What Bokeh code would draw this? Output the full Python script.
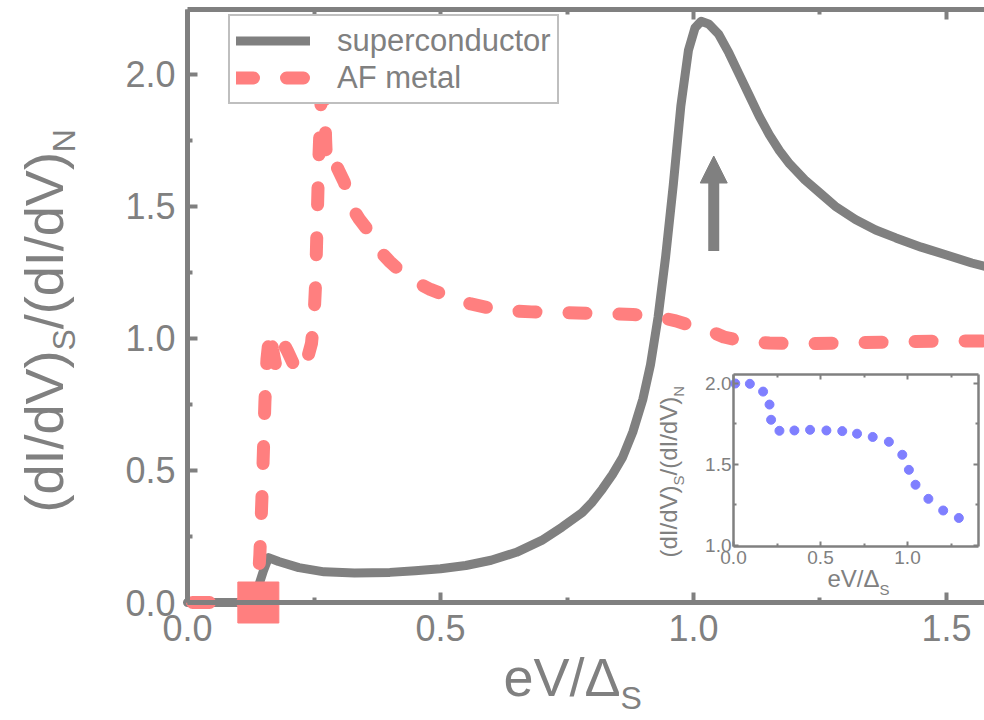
from bokeh.plotting import figure
from bokeh.models import (Range1d, LinearAxis, FixedTicker, PrintfTickFormatter,
                          Legend, LegendItem, Label, Arrow, NormalHead)
from bokeh.layouts import column
from bokeh.embed import file_html
from bokeh.resources import INLINE

# ---------------- data ----------------
sc_x = [0.0, 0.13, 0.14, 0.15, 0.16, 0.18, 0.22, 0.27, 0.33, 0.40, 0.45, 0.50, 0.55,
        0.60, 0.65, 0.70, 0.74, 0.78, 0.80, 0.82, 0.84, 0.86, 0.88, 0.90, 0.915,
        0.93, 0.945, 0.96, 0.975, 0.99, 1.003, 1.015, 1.03, 1.05, 1.07, 1.09, 1.11,
        1.13, 1.15, 1.17, 1.19, 1.22, 1.25, 1.28, 1.32, 1.36, 1.40, 1.45, 1.50,
        1.55, 1.58]
sc_y = [0.0, 0.0, 0.06, 0.12, 0.17, 0.155, 0.132, 0.116, 0.112, 0.114, 0.12, 0.128,
        0.14, 0.16, 0.19, 0.235, 0.285, 0.34, 0.38, 0.43, 0.485, 0.55, 0.645, 0.77,
        0.90, 1.08, 1.31, 1.58, 1.88, 2.09, 2.175, 2.20, 2.19, 2.15, 2.08, 2.00,
        1.92, 1.84, 1.77, 1.71, 1.66, 1.60, 1.55, 1.50, 1.45, 1.41, 1.38, 1.345,
        1.315, 1.285, 1.27]

af_x = [0.01, 0.12, 0.138, 0.143, 0.147, 0.150, 0.153, 0.157, 0.163, 0.168, 0.175,
        0.183, 0.19, 0.198, 0.21, 0.222, 0.235, 0.245, 0.25, 0.253, 0.255, 0.257,
        0.259, 0.262, 0.265, 0.268, 0.271, 0.273, 0.275, 0.282, 0.29, 0.30, 0.31,
        0.32, 0.34, 0.36, 0.38, 0.40, 0.42, 0.45, 0.48, 0.52, 0.56, 0.62, 0.68,
        0.75, 0.81, 0.88, 0.92, 0.965, 1.0, 1.03, 1.06, 1.10, 1.15, 1.23, 1.30,
        1.39, 1.50, 1.58]
af_y = [0.0, 0.0, 0.02, 0.18, 0.39, 0.57, 0.76, 0.92, 1.03, 0.96, 0.89, 0.95, 0.98,
        0.95, 0.90, 0.87, 0.91, 0.98, 1.08, 1.20, 1.35, 1.50, 1.65, 1.80, 1.95, 2.02,
        1.90, 1.75, 1.66, 1.68, 1.67, 1.63, 1.59, 1.51, 1.45, 1.40, 1.33, 1.29, 1.255,
        1.215, 1.185, 1.155, 1.13, 1.105, 1.10, 1.097, 1.094, 1.09, 1.085, 1.066,
        1.045, 1.03, 1.005, 0.988, 0.982, 0.98, 0.982, 0.986, 0.99, 0.99]

marker_x = [0.14]
marker_y = [0.0]

arrow_x = 1.04
arrow_y_start = 1.33
arrow_y_end = 1.69

inset_x = [0.01, 0.094, 0.17, 0.207, 0.216, 0.264, 0.35, 0.44, 0.534, 0.625, 0.71,
           0.80, 0.893, 0.97, 1.008, 1.046, 1.12, 1.205, 1.295]
inset_y = [2.0, 1.998, 1.95, 1.87, 1.776, 1.708, 1.71, 1.714, 1.71, 1.706, 1.69,
           1.67, 1.64, 1.56, 1.467, 1.375, 1.288, 1.216, 1.17]

x_ticks = [0.0, 0.5, 1.0, 1.5]
x_minor = [0.25, 0.75, 1.25]
y_ticks = [0.0, 0.5, 1.0, 1.5, 2.0]
y_minor = [0.25, 0.75, 1.25, 1.75]
inset_x_ticks = [0.0, 0.5, 1.0]
inset_x_minor = [0.25, 0.75, 1.25]
inset_y_ticks = [1.0, 1.5, 2.0]
inset_y_minor = [1.25, 1.75]

legend_labels = ["superconductor", "AF metal"]

# axis limits of the data boxes
X_MAX = 1.5751
Y_MAX = 2.2445
IX_MAX = 1.408
IY_MIN = 0.9938
IY_MAX = 2.0556

GRAY = "#808080"
SALMON = "#ff7f7f"
BLUE = "#7f7fff"
FONT = "Liberation Sans"


def make_axis(ticks, minor, loc, bounds, label_size, tick_in, minor_in, tick_w,
              line_w, standoff, show_labels=True):
    ax = LinearAxis(ticker=FixedTicker(ticks=ticks, minor_ticks=minor),
                    fixed_location=loc, bounds=bounds)
    ax.axis_line_color = GRAY
    ax.axis_line_width = line_w
    ax.major_tick_line_color = GRAY
    ax.major_tick_line_width = tick_w
    ax.minor_tick_line_color = GRAY
    ax.minor_tick_line_width = tick_w
    ax.major_tick_in = tick_in
    ax.major_tick_out = 0
    ax.minor_tick_in = minor_in
    ax.minor_tick_out = 0
    ax.major_label_text_color = GRAY if show_labels else None
    ax.major_label_text_font = FONT
    ax.major_label_text_font_size = label_size
    ax.major_label_standoff = standoff
    ax.formatter = PrintfTickFormatter(format="%.1f")
    return ax


def add_text(fig, text, x, y, size, angle=0.0):
    fig.add_layout(Label(x=x, y=y, text=text, angle=angle, text_font=FONT,
                         text_font_size=f"{size}px", text_color=GRAY,
                         text_align="left", text_baseline="alphabetic"))


# ---------------- main figure (frame = whole canvas) ----------------
p = figure(width=984, height=720, x_range=Range1d(-0.36957, 1.57510),
           y_range=Range1d(-0.44663, 2.27858), output_backend="svg",
           toolbar_location=None, x_axis_location=None, y_axis_location=None,
           min_border=0)
p.outline_line_color = None
p.background_fill_color = "white"
p.border_fill_color = "white"
p.xgrid.visible = False
p.ygrid.visible = False

p.add_layout(make_axis(x_ticks, x_minor, 0.0, (0.0, X_MAX), "36px", 10, 5, 4, 5, 12), "below")
p.add_layout(make_axis(y_ticks, y_minor, 0.0, (0.0, Y_MAX), "36px", 10, 5, 4, 5, 12), "left")
p.add_layout(make_axis(x_ticks, x_minor, Y_MAX, (0.0, X_MAX), "36px", 10, 5, 4, 5, 0,
                       show_labels=False), "above")

r_sc = p.line(sc_x, sc_y, line_color=GRAY, line_width=9, line_cap="round",
              line_join="round")
r_af = p.line(af_x, af_y, line_color=SALMON, line_width=13, line_dash="17 33",
              line_cap="round", line_join="round")
p.scatter(marker_x, marker_y, marker="square", size=41, fill_color=SALMON,
          line_color=SALMON)

p.add_layout(Arrow(end=NormalHead(size=27, fill_color=GRAY, line_color=GRAY),
                   x_start=arrow_x, y_start=arrow_y_start, x_end=arrow_x,
                   y_end=arrow_y_end, line_color=GRAY, line_width=11,
                   line_cap="butt"))

legend = Legend(items=[LegendItem(label=legend_labels[0], renderers=[r_sc]),
                       LegendItem(label=legend_labels[1], renderers=[r_af])],
                location=(228, 616))
legend.label_text_font = FONT
legend.label_text_font_size = "31px"
legend.label_text_line_height = 1.0
legend.label_text_color = GRAY
legend.border_line_color = GRAY
legend.border_line_width = 2
legend.background_fill_color = "white"
legend.background_fill_alpha = 1.0
legend.padding = 6
legend.spacing = 0
legend.margin = 0
legend.glyph_width = 74
legend.glyph_height = 37
legend.label_height = 37
legend.label_standoff = 27
p.add_layout(legend, "center")

# axis titles (with subscripts)
YL_X = -0.2834
YL_SUB_X = -0.2441
add_text(p, "(dI/dV)", YL_X, 0.3407, 54, 1.5708)
add_text(p, "S", YL_SUB_X, 0.9537, 32, 1.5708)
add_text(p, "/(dI/dV)", YL_X, 1.0345, 54, 1.5708)
add_text(p, "N", YL_SUB_X, 1.7045, 32, 1.5708)
add_text(p, "eV/\u0394", 0.6245, -0.2824, 54)
add_text(p, "S", 0.8557, -0.3615, 32)

# ---------------- inset (frame = whole canvas) ----------------
ins = figure(width=327, height=228, x_range=Range1d(-0.4483, 1.4310),
             y_range=Range1d(0.6728, 2.0802), output_backend="svg",
             toolbar_location=None, x_axis_location=None, y_axis_location=None,
             min_border=0)
ins.outline_line_color = None
ins.background_fill_color = None
ins.border_fill_color = None
ins.xgrid.visible = False
ins.ygrid.visible = False

ins.add_layout(make_axis(inset_x_ticks, inset_x_minor, IY_MIN, (0.0, IX_MAX), "19px",
                         5, 3, 2, 2.5, 5), "below")
ins.add_layout(make_axis(inset_y_ticks, inset_y_minor, 0.0, (IY_MIN, IY_MAX), "19px",
                         5, 3, 2, 2.5, 2), "left")
ins.add_layout(make_axis(inset_x_ticks, inset_x_minor, IY_MAX, (0.0, IX_MAX), "19px",
                         5, 3, 2, 2.5, 0, show_labels=False), "above")
ins.add_layout(make_axis(inset_y_ticks, inset_y_minor, IX_MAX, (IY_MIN, IY_MAX), "19px",
                         5, 3, 2, 2.5, 0, show_labels=False), "right")

ins.scatter(inset_x, inset_y, size=9, fill_color=BLUE, line_color=BLUE)

add_text(ins, "(dI/dV)", -0.3713, 0.926, 24, 1.5708)
add_text(ins, "S", -0.3184, 1.3704, 15, 1.5708)
add_text(ins, "/(dI/dV)", -0.3713, 1.4322, 24, 1.5708)
add_text(ins, "N", -0.3184, 1.918, 15, 1.5708)
add_text(ins, "eV/\u0394", 0.540, 0.7938, 24)
add_text(ins, "S", 0.839, 0.7309, 15)

ins.margin = (-350, 0, 0, 655)

layout = column(p, ins)
open("out.html", "w").write(file_html(layout, INLINE))
